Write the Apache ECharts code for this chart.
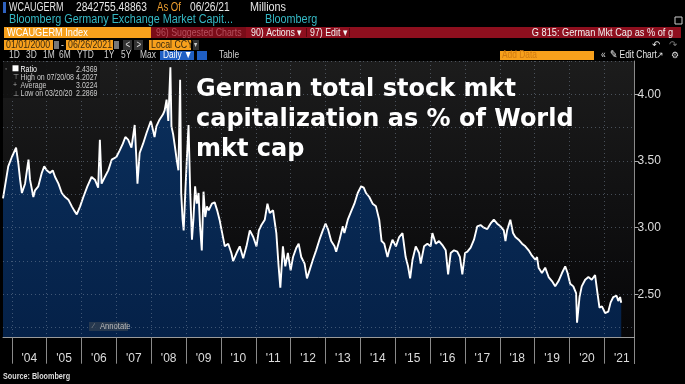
<!DOCTYPE html>
<html>
<head>
<meta charset="utf-8">
<script src="https://cdn.jsdelivr.net/npm/echarts@6/dist/echarts.min.js"></script>
<style>
html,body{margin:0;padding:0;background:#000;}
#chart{width:685px;height:384px;}
</style>
</head>
<body>
<div id="chart"></div>
<script>
// ---- Data ----
const dates = [
'2003-10-01','2003-11-25','2004-01-02','2004-02-15','2004-03-10','2004-03-28','2004-04-16','2004-05-19','2004-06-24','2004-07-10',
'2004-08-14','2004-09-01','2004-10-05','2004-11-10','2004-12-06','2005-01-01','2005-02-05','2005-03-05','2005-03-30','2005-05-04',
'2005-06-08','2005-07-13','2005-08-16','2005-09-21','2005-10-15','2005-11-12','2005-12-17','2006-01-20','2006-03-03','2006-04-16',
'2006-05-21','2006-06-24','2006-07-12','2006-07-30','2006-09-02','2006-10-08','2006-11-13','2007-01-01','2007-02-05','2007-03-10',
'2007-04-05','2007-05-04','2007-06-08','2007-07-12','2007-07-30','2007-08-10','2007-09-02','2007-10-08','2007-11-13','2007-12-28',
'2008-01-20','2008-02-05','2008-02-24','2008-03-28','2008-05-04','2008-05-21','2008-06-10','2008-06-28','2008-07-20','2008-07-31',
'2008-08-18','2008-09-05','2008-09-24','2008-10-12','2008-10-30','2008-11-10','2008-11-25','2008-12-06','2008-12-24','2009-01-08',
'2009-01-26','2009-02-13','2009-03-03','2009-03-18','2009-04-05','2009-04-23','2009-05-11','2009-05-27','2009-06-14','2009-07-02',
'2009-07-20','2009-08-07','2009-08-25','2009-09-28','2009-10-27','2009-11-22','2009-12-17','2010-01-08','2010-02-10','2010-03-18',
'2010-04-20','2010-05-08','2010-06-13','2010-07-17','2010-08-22','2010-09-25','2010-10-30','2010-12-05','2011-01-08','2011-02-02',
'2011-03-01','2011-04-05','2011-05-03','2011-05-27','2011-07-01','2011-08-04','2011-08-28','2011-09-15','2011-10-12','2011-11-06',
'2011-12-03','2012-01-01','2012-01-26','2012-03-01','2012-03-25','2012-04-21','2012-05-26','2012-06-20','2012-07-17','2012-08-21',
'2012-09-24','2012-10-29','2012-12-03','2013-01-01','2013-01-26','2013-03-01','2013-04-05','2013-04-22','2013-05-27','2013-07-01',
'2013-07-17','2013-08-22','2013-09-25','2013-10-30','2013-12-04','2014-01-08','2014-02-05','2014-03-01','2014-04-04','2014-05-09',
'2014-06-13','2014-07-17','2014-08-11','2014-09-08','2014-10-12','2014-10-29','2014-12-03','2015-01-08','2015-02-11','2015-03-18',
'2015-04-20','2015-05-15','2015-06-06','2015-07-01','2015-08-04','2015-09-08','2015-09-25','2015-10-30','2015-12-04','2016-01-07',
'2016-01-25','2016-03-01','2016-04-04','2016-05-09','2016-06-13','2016-07-08','2016-08-04','2016-09-08','2016-10-12','2016-11-09',
'2016-12-04','2017-01-01','2017-01-26','2017-03-01','2017-04-05','2017-05-09','2017-06-13','2017-07-17','2017-08-22','2017-09-25',
'2017-10-30','2017-12-04','2018-01-08','2018-02-11','2018-03-01','2018-03-18','2018-04-21','2018-05-19','2018-06-13','2018-07-17',
'2018-08-22','2018-09-25','2018-10-30','2018-12-04','2019-01-08','2019-01-26','2019-02-11','2019-03-18','2019-04-21','2019-05-27',
'2019-07-01','2019-08-04','2019-09-08','2019-10-14','2019-11-17','2019-12-12','2020-01-08','2020-02-10','2020-03-10','2020-03-20',
'2020-04-15','2020-05-08','2020-06-13','2020-07-17','2020-08-21','2020-09-25','2020-10-20','2020-11-10','2020-12-06','2021-01-08',
'2021-02-10','2021-03-07','2021-04-04','2021-05-08','2021-05-26','2021-06-14','2021-06-26'
];
const ratio = [
3.22,3.46,3.53,3.60,3.48,3.36,3.26,3.33,3.51,3.36,
3.23,3.28,3.31,3.41,3.46,3.43,3.41,3.43,3.38,3.33,
3.26,3.23,3.21,3.16,3.13,3.10,3.16,3.23,3.31,3.38,
3.36,3.30,3.66,3.33,3.38,3.43,3.51,3.53,3.58,3.63,
3.68,3.66,3.60,3.77,3.51,3.33,3.56,3.63,3.71,3.80,
3.73,3.68,3.76,3.81,3.85,3.88,3.96,3.80,4.2027,3.76,
3.70,3.61,3.51,3.43,4.11,3.26,3.06,2.98,3.28,3.51,
3.77,3.26,2.91,3.06,3.31,3.18,3.26,3.01,2.83,3.27,
3.08,3.16,3.13,3.18,3.19,3.13,3.06,2.98,2.86,2.88,
2.81,2.75,2.81,2.86,2.77,2.86,2.98,2.93,2.86,2.98,
3.02,3.06,3.18,3.11,3.13,2.96,2.71,2.55,2.86,2.71,
2.81,2.68,2.78,2.85,2.88,2.78,2.73,2.62,2.68,2.76,
2.83,2.91,2.98,3.03,2.99,2.90,2.86,2.82,2.91,3.01,
2.96,3.06,3.12,3.18,3.26,3.31,3.30,3.26,3.23,3.18,
3.16,3.06,2.90,2.88,2.78,2.83,2.91,2.86,2.93,2.96,
2.78,2.71,2.62,2.76,2.86,2.81,2.73,2.86,2.88,2.86,
2.96,2.88,2.90,2.87,2.83,2.65,2.81,2.83,2.82,2.78,
2.65,2.81,2.82,2.85,2.91,3.01,3.02,3.00,2.99,3.03,
3.06,3.03,3.01,2.98,2.90,2.98,3.06,2.96,2.93,2.91,
2.88,2.86,2.83,2.79,2.76,2.78,2.70,2.66,2.70,2.63,
2.60,2.56,2.60,2.66,2.71,2.66,2.58,2.56,2.51,2.2869,
2.48,2.56,2.61,2.63,2.61,2.645,2.51,2.40,2.41,2.36,
2.37,2.44,2.48,2.49,2.45,2.48,2.4369
];
const years = [2004,2005,2006,2007,2008,2009,2010,2011,2012,2013,2014,2015,2016,2017,2018,2019,2020,2021];
const yLabelValues = [2.5, 3.0, 3.5, 4.0];
const yGridValues = [2.25, 2.5, 2.75, 3.0, 3.25, 3.5, 3.75, 4.0, 4.25];
const lastValue = 2.4369;
const legendRows = [
  ['Ratio', '2.4369'],
  ['High on 07/20/08', '4.2027'],
  ['Average', '3.0224'],
  ['Low on 03/20/20', '2.2869']
];
const titleText = 'German total stock mkt\ncapitalization as % of World\nmkt cap';

// ---- Build ----
function ts(s) { return Date.parse(s + 'T00:00:00Z'); }
const seriesData = dates.map((d, i) => [ts(d), ratio[i]]);
const yearStarts = years.map(y => ts(y + '-01-01'));
const yearMids = years.map(y => ts(y + '-07-02'));

const SANS = '"Liberation Sans",Arial,sans-serif';

// text helper: condensed look via horizontal scale
function txt(x, y, text, fill, size, opt) {
  opt = opt || {};
  return {
    type: 'text', x: x, y: y, z: 100, silent: true,
    scaleX: opt.sx == null ? 0.8 : opt.sx,
    style: {
      text: text, fill: fill, fontSize: size, fontFamily: opt.family || SANS,
      fontWeight: opt.weight || 'normal',
      verticalAlign: 'middle', align: opt.align || 'left'
    }
  };
}
function box(x, y, w, h, fill, extra) {
  return Object.assign({
    type: 'rect', z: 99, silent: true,
    shape: {x: x, y: y, width: w, height: h},
    style: {fill: fill}
  }, extra || {});
}

const ORANGE = '#f7a01c';
const header = [
  box(3, 2, 3, 11, '#2f62c0'),
  txt(9, 8, 'WCAUGERM', '#e6e6e6', 12, {sx: 0.75}),
  txt(76, 8, '2842755.48863', '#e6e6e6', 12, {sx: 0.85}),
  txt(157, 8, 'As Of', '#f0a030', 12),
  txt(190, 8, '06/26/21', '#e6e6e6', 12, {sx: 0.85}),
  txt(250, 8, 'Millions', '#e6e6e6', 12, {sx: 0.9}),
  txt(9, 20, 'Bloomberg Germany Exchange Market Capit...', '#35b8c4', 12, {sx: 0.9}),
  txt(265, 20, 'Bloomberg', '#35b8c4', 12, {sx: 0.9}),
  box(675, 17, 7, 7, 'none', {style: {fill: 'none', stroke: '#ccc', lineWidth: 1}}),
  box(4, 27, 147, 11, ORANGE),
  txt(7, 32.5, 'WCAUGERM Index', '#ffffff', 11.5),
  box(151, 27, 530, 11, '#8e0f1e'),
  box(151, 27, 95, 11, '#7a0c18'),
  txt(156, 32.5, '96) Suggested Charts', '#b5505e', 11),
  txt(251, 32.5, '90) Actions \u25BE', '#f2f2f2', 11),
  box(306, 28, 1, 9, '#5a0810'),
  txt(310, 32.5, '97) Edit \u25BE', '#f2f2f2', 11),
  box(349, 28, 1, 9, '#5a0810'),
  txt(673, 32.5, 'G 815: German Mkt Cap as % of g', '#f2f2f2', 11.5, {align: 'right'}),
  box(4, 40, 49, 10, ORANGE),
  txt(6, 45, '01/01/2000', '#3a2a10', 11),
  box(54, 41, 5, 8, '#777'),
  txt(61, 45, '-', '#ddd', 11),
  box(66, 40, 47, 10, ORANGE),
  txt(68, 45, '06/26/2021', '#3a2a10', 11),
  box(114, 41, 5, 8, '#777'),
  box(123, 40, 9, 10, '#333'),
  txt(125.5, 45, '<', '#ddd', 10),
  box(134, 40, 9, 10, '#333'),
  txt(136.5, 45, '>', '#ddd', 10),
  box(149, 40, 42, 10, ORANGE),
  txt(151, 45, 'Local CCY', '#3a2a10', 11),
  box(193, 40, 6, 10, '#333'),
  txt(194, 45, '\u25BE', '#ccc', 8),
  txt(652, 45, '\u21B6', '#ddd', 10, {sx: 1}),
  txt(669, 45, '\u21B7', '#777', 10, {sx: 1}),
  txt(9, 55.5, '1D', '#cfcfcf', 10.5),
  txt(26, 55.5, '3D', '#cfcfcf', 10.5),
  txt(43, 55.5, '1M', '#cfcfcf', 10.5),
  txt(59, 55.5, '6M', '#cfcfcf', 10.5),
  txt(77, 55.5, 'YTD', '#cfcfcf', 10.5),
  txt(104, 55.5, '1Y', '#cfcfcf', 10.5),
  txt(121, 55.5, '5Y', '#cfcfcf', 10.5),
  txt(140, 55.5, 'Max', '#cfcfcf', 10.5),
  box(160, 51, 34, 9, '#1f5fc4'),
  txt(163, 55.5, 'Daily \u25BC', '#ffffff', 10.5),
  box(197, 51, 10, 9, '#1f5fc4'),
  txt(219, 55.5, 'Table', '#cfcfcf', 10.5),
  box(500, 51, 94, 9, ORANGE),
  txt(502, 55.5, 'Add Data', '#d07a10', 10.5),
  txt(601, 55.5, '\u00AB', '#ddd', 10.5),
  txt(610, 55.5, '\u270E Edit Chart', '#e6e6e6', 10.5),
  txt(656, 55.5, '\u2197', '#ddd', 9, {sx: 1}),
  txt(671, 55.5, '\u2699', '#ddd', 9, {sx: 1})
];

const legend = [box(3, 62, 97, 36, 'rgba(18,18,18,0.9)')];
const icons = ['', '\u22A4', '+', '\u22A5'];
legendRows.forEach((r, i) => {
  const y = 69.3 + i * 8.1;
  if (i === 0) {
    legend.push(box(12.5, 65.3, 6, 6, '#ffffff', {z: 101}));
    legend.push(txt(5, y, '\u25E6', '#999', 7, {sx: 1}));
  } else {
    legend.push(txt(13, y, icons[i], '#aaa', 7, {sx: 1}));
  }
  legend.push(txt(20.5, y, r[0], i === 0 ? '#ffffff' : '#cccccc', 9, {sx: 0.78}));
  legend.push(txt(97.5, y, r[1], '#cccccc', 9, {sx: 0.78, align: 'right'}));
});

const extras = [
  box(89, 322, 39, 9, 'rgba(45,60,80,0.85)'),
  txt(93, 326.5, '\u2215', '#999', 7, {sx: 1}),
  txt(100, 326.5, 'Annotate', '#bbbbbb', 8.5, {sx: 0.9}),
  {type: 'line', z: 50, silent: true, shape: {x1: 634.5, y1: 338, x2: 634.5, y2: 364}, style: {stroke: '#8a8a8a', lineWidth: 1}},
  {type: 'text', x: 196, y: 75, z: 100, silent: true,
   style: {text: titleText, fill: '#ffffff', fontSize: 24, fontWeight: 'bold', fontFamily: '"DejaVu Sans",sans-serif', lineHeight: 30, verticalAlign: 'top'}},
  txt(3, 377, 'Source: Bloomberg', '#dddddd', 8.5, {sx: 0.85, weight: 'bold'})
];

const chart = echarts.init(document.getElementById('chart'), null, {renderer: 'canvas'});
const gridDot = {color: 'rgba(135,150,170,0.45)', width: 1, type: [1, 3]};

chart.setOption({
  backgroundColor: '#000000',
  animation: false,
  grid: {
    left: 3, right: 50.5, top: 61, bottom: 46.3, show: true, borderWidth: 0,
    backgroundColor: new echarts.graphic.LinearGradient(0, 0, 0, 1, [
      {offset: 0, color: '#1c1c1c'}, {offset: 1, color: '#060608'}
    ])
  },
  xAxis: {
    type: 'value', min: ts('2003-10-01'), max: ts('2021-11-12'), z: 3,
    axisLine: {lineStyle: {color: '#9a9a9a', width: 1}},
    axisTick: {show: true, customValues: yearStarts, length: 26, lineStyle: {color: '#8a8a8a'}},
    axisLabel: {
      customValues: yearMids, color: '#dcdcdc', fontSize: 12, fontFamily: SANS, margin: 15,
      formatter: function (v) { return "'" + String(new Date(v).getUTCFullYear()).slice(2); }
    },
    splitLine: {show: true, lineStyle: gridDot}
  },
  yAxis: [
    {
      type: 'value', position: 'right', min: 2.175, max: 4.25,
      axisLine: {show: true, lineStyle: {color: '#8a8a8a'}},
      axisTick: {show: true, customValues: yLabelValues, length: 4, lineStyle: {color: '#aaaaaa'}},
      axisLabel: {customValues: yLabelValues, color: '#dddddd', fontSize: 12, fontFamily: SANS, margin: 3,
        formatter: function (v) { return v.toFixed(2); }},
      splitLine: {show: false}
    },
    {
      type: 'value', position: 'left', min: 2.175, max: 4.25, z: 3,
      axisLine: {show: false}, axisLabel: {show: false},
      axisTick: {show: false, customValues: yGridValues},
      splitLine: {show: true, lineStyle: gridDot}
    }
  ],
  series: [{
    type: 'line', yAxisIndex: 0, data: seriesData, showSymbol: false, symbol: 'none',
    lineStyle: {color: '#ffffff', width: 1.9}, z: 2,
    areaStyle: {color: new echarts.graphic.LinearGradient(0, 0, 0, 1, [
      {offset: 0, color: '#0b305d'}, {offset: 1, color: '#052148'}
    ]), opacity: 1},
    markLine: {
      silent: true, symbol: 'none',
      lineStyle: {opacity: 0},
      label: {show: true, position: 'end', distance: 3, formatter: String(lastValue),
        color: '#000', backgroundColor: '#ffffff', padding: [1, 2, 0, 2], fontSize: 12, fontFamily: SANS},
      data: [{yAxis: lastValue}]
    }
  }],
  graphic: {elements: header.concat(legend).concat(extras)}
});
</script>
</body>
</html>
